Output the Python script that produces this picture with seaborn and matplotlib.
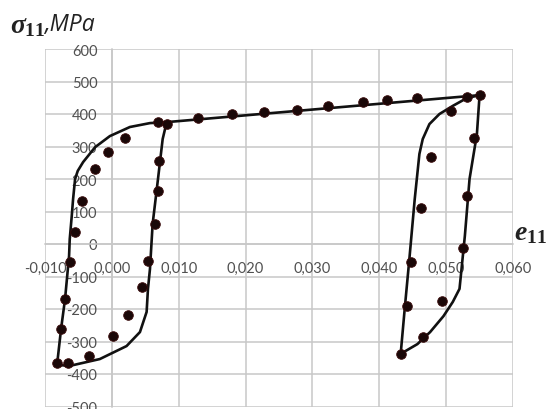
import matplotlib
matplotlib.use("Agg")
import matplotlib.pyplot as plt
import seaborn as sns
import numpy as np
import pandas as pd

# ---- data ----
# model curve: first (left) loop
loop1_strain = [0.0082, 0.0076, 0.0069, 0.0061, 0.0057, 0.0054, 0.0052, 0.0042, 0.0022, -0.0018, -0.0063,
                -0.0082, -0.0076, -0.0070, -0.0064, -0.0063, -0.0060, -0.0058, -0.0055, -0.0051, -0.0043,
                -0.0025, -0.0003, 0.0027, 0.0057, 0.0082]
loop1_stress = [375, 323, 200, 62, -77, -138, -209, -271, -314, -354, -375,
                -372, -262, -169, -37, 15, 86, 138, 200, 225, 252,
                298, 332, 360, 372, 375]
# model curve: hardening branch
top_strain = [0.0082, 0.0550]
top_stress = [375, 458]
# model curve: second (right) loop
loop2_strain = [0.0550, 0.0546, 0.0535, 0.0528, 0.0523, 0.0520, 0.0510, 0.0496, 0.0476, 0.0457, 0.0432,
                0.0438, 0.0445, 0.0453, 0.0460, 0.0465, 0.0475, 0.0490, 0.0510, 0.0531, 0.0550]
loop2_stress = [458, 338, 200, 25, -77, -138, -178, -222, -271, -308, -338,
                -200, -46, 138, 277, 323, 369, 400, 425, 449, 458]

# experimental points
exp_strain = [0.0069, 0.0082, 0.0019, -0.0006, -0.0025, -0.0045, -0.0055, -0.0063, -0.0070, -0.0076,
              -0.0082, -0.0066, -0.0034, 0.0001, 0.0024, 0.0045, 0.0054, 0.0064, 0.0069, 0.0070,
              0.0129, 0.0179, 0.0227, 0.0277, 0.0324, 0.0375, 0.0411, 0.0457, 0.0531, 0.0550,
              0.0508, 0.0542, 0.0478, 0.0531, 0.0463, 0.0525, 0.0448, 0.0494, 0.0442, 0.0466, 0.0432]
exp_stress = [375, 369, 326, 283, 231, 132, 37, -55, -169, -262,
              -366, -366, -345, -283, -218, -132, -52, 62, 163, 255,
              388, 400, 406, 412, 425, 437, 443, 449, 452, 458,
              409, 326, 268, 148, 111, -12, -55, -175, -191, -286, -338]

x_ticks = [-0.010, 0.000, 0.010, 0.020, 0.030, 0.040, 0.050, 0.060]
x_tick_labels = ["-0,010", "0,000", "0,010", "0,020", "0,030", "0,040", "0,050", "0,060"]
y_ticks = [-500, -400, -300, -200, -100, 0, 100, 200, 300, 400, 500, 600]
y_tick_labels = ["-500", "-400", "-300", "-200", "-100", "0", "100", "200", "300", "400", "500", "600"]

# ---- style ----
sns.set_style("white")
plt.rcParams["font.family"] = ["Lato", "DejaVu Sans"]
plt.rcParams["mathtext.fontset"] = "custom"
plt.rcParams["mathtext.it"] = "Liberation Serif:italic:bold"
plt.rcParams["mathtext.bf"] = "Liberation Serif:bold"
plt.rcParams["mathtext.rm"] = "Liberation Serif"

fig = plt.figure(figsize=(5.48, 4.10), dpi=100)
ax = fig.add_axes([45 / 548, 1 - 407.5 / 410, 468 / 548, 357.5 / 410])

grid_c = "#c8c8c8"
line_c = "#111111"
dot_c = "#1a0808"

for xs, ys in [(loop1_strain, loop1_stress), (top_strain, top_stress), (loop2_strain, loop2_stress)]:
    df = pd.DataFrame({"strain": xs, "stress": ys})
    sns.lineplot(data=df, x="strain", y="stress", sort=False, estimator=None,
                 color=line_c, linewidth=1.9, ax=ax, zorder=3)

dfe = pd.DataFrame({"strain": exp_strain, "stress": exp_stress})
sns.scatterplot(data=dfe, x="strain", y="stress", color=dot_c, s=48, edgecolor="#3a0a0a",
                linewidth=0.6, ax=ax, zorder=4)

ax.set_xlim(-0.010, 0.060)
ax.set_ylim(-500, 600)
ax.set_xticks(x_ticks)
ax.set_xticklabels(x_tick_labels)
ax.set_yticks(y_ticks)
ax.set_yticklabels(y_tick_labels)
ax.set_xlabel("")
ax.set_ylabel("")

ax.grid(True, color=grid_c, linewidth=1.1)
ax.set_axisbelow(True)
ax.spines["left"].set_position(("data", 0))
ax.spines["bottom"].set_position(("data", 0))
ax.spines["left"].set_color(grid_c)
ax.spines["bottom"].set_color(grid_c)
ax.spines["left"].set_linewidth(1.1)
ax.spines["bottom"].set_linewidth(1.1)
ax.spines["top"].set_visible(False)
ax.spines["right"].set_visible(False)
ax.tick_params(axis="x", length=0, pad=12, labelsize=10.5, labelcolor="#505050")
ax.tick_params(axis="y", length=0, pad=10.5, labelsize=10.5, labelcolor="#505050")

# axis titles
fig.text(10 / 548, 1 - 33 / 410, r"$\sigma_{\mathbf{11}}$", fontsize=20, va="baseline", ha="left",
         color="#222222")
fig.text(45 / 548, 1 - 31 / 410, ",MPa", fontsize=16.5, style="italic", va="baseline", ha="left",
         color="#222222", family=["Open Sans", "DejaVu Sans"])
fig.text(514 / 548, 1 - 240 / 410, r"$e_{\mathbf{11}}$", fontsize=20, va="baseline", ha="left",
         color="#222222")

fig.savefig("out.png", dpi=100)
